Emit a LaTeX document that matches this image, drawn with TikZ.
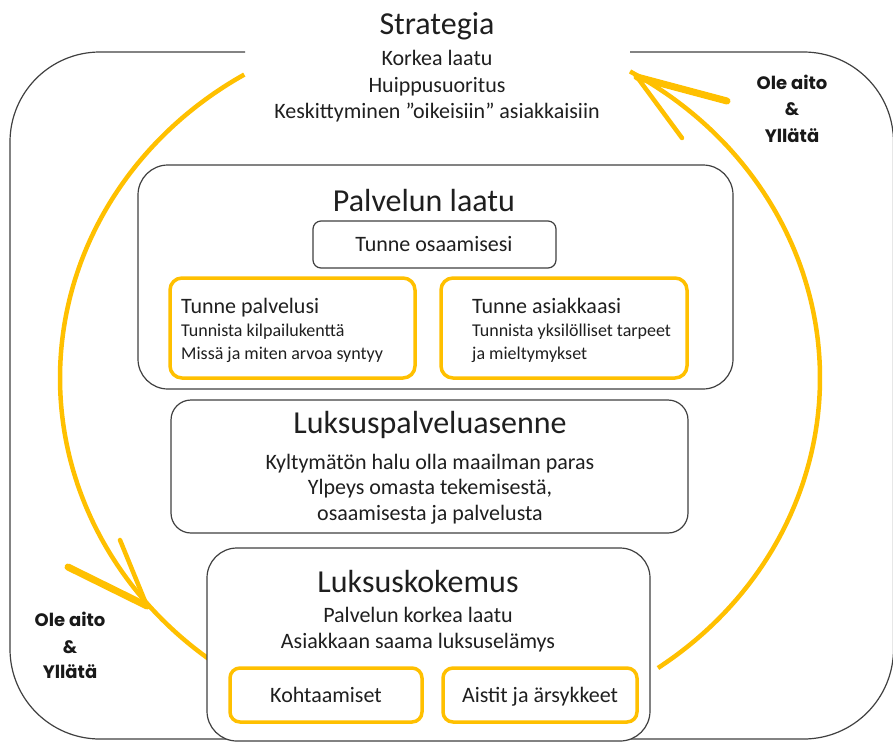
\documentclass[tikz,border=0pt]{standalone}
\usepackage{fontspec}
\setmainfont{Carlito}
\newfontfamily\mottofont{Poppins}
\usetikzlibrary{positioning}
\definecolor{gold}{HTML}{FFC000}
\definecolor{edgegray}{HTML}{404040}
\tikzset{
panel/.style = {rectangle, draw=edgegray, line width=1.2pt, fill=white, rounded corners=#1},
panel/.default = 20, % corner radius of the black boxes
goldbox/.style = {rectangle, draw=gold, line width=3.5pt, fill=white, rounded corners=12},
loopline/.style = {draw=gold, line width=4.5pt},
barb/.style = {draw=gold, line width=7pt, line cap=round},
thinbarb/.style = {draw=gold, line width=4.5pt, line cap=round},
head/.style = {font=\fontsize{32}{38}\selectfont, anchor=base, inner sep=0pt, text=black!88},
body/.style = {font=\fontsize{22}{26}\selectfont, anchor=base, inner sep=0pt, text=black!88},
minor/.style = {font=\fontsize{18}{22}\selectfont, anchor=base west, inner sep=0pt, text=black!88},
motto/.style = {font=\mottofont\bfseries\fontsize{18}{22}\selectfont, anchor=base, inner sep=0pt, text=black!90},
}

\begin{document}
\begin{tikzpicture}[x=1pt, y=-1pt]
\useasboundingbox (0,0) rectangle (893,742);

    % outer frame, open at the top for the strategy
    \draw[edgegray, line width=1.2pt, rounded corners=90] (245,52) -- (10,52) -- (10,739) -- (893.5,739) -- (893.5,52) -- (630,52);

    % the yellow cycle
    \draw[loopline, domain=121:238, samples=80, smooth] plot ({440+380*cos(\x)}, {378-354*sin(\x)});
    \draw[loopline, domain=-55:60, samples=80, smooth] plot ({440+380*cos(\x)}, {378-354*sin(\x)});

    \coordinate (tipR) at (637,77);
    \coordinate (barbR1) at (727,101);
    \coordinate (barbR2) at (682,138);
    \coordinate (tipL) at (147,606);
    \coordinate (barbL1) at (68,567);
    \coordinate (barbL2) at (120,540);
\draw[barb] (tipR) -- (barbR1);
\draw[thinbarb] (tipR) -- (barbR2);
\draw[barb] (tipL) -- (barbL1);
\draw[thinbarb] (tipL) -- (barbL2);

    % boxes
    \node[panel=30, minimum width=595, minimum height=224] (laatu) at (435.5,277) {};
    \node[panel=8, minimum width=243, minimum height=47] (osaam) at (434.5,244.5) {};
    \node[goldbox, minimum width=245, minimum height=100] (palv) at (292.5,328) {};
    \node[goldbox, minimum width=246, minimum height=100] (asiak) at (564,328) {};
    \node[panel=20, minimum width=517, minimum height=133] (asenne) at (429.5,466.5) {};
    \node[panel=30, minimum width=443, minimum height=193] (kokemus) at (428.5,644.5) {};
    \node[goldbox, rounded corners=10, minimum width=192, minimum height=54] (kohtaam) at (326,695) {};
    \node[goldbox, rounded corners=10, minimum width=194, minimum height=54] (aistit) at (540,695) {};

    % texts
\node[head] (strat) at (437,34) {Strategia};
\node[body] (strat1) at (437,65) {Korkea laatu};
\node[body] (strat2) at (437,92) {Huippusuoritus};
\node[body] (strat3) at (437,118) {Keskittyminen ”oikeisiin” asiakkaisiin};

\node[head] (laatuT) at (424,211) {Palvelun laatu};
\node[body] (osaamT) at (434,251) {Tunne osaamisesi};
\node[body, anchor=base west] (palvT) at (181,313) {Tunne palvelusi};
\node[minor] (palv1) at (181,336) {Tunnista kilpailukenttä};
\node[minor] (palv2) at (181,359) {Missä ja miten arvoa syntyy};
\node[body, anchor=base west] (asiakT) at (472,313) {Tunne asiakkaasi};
\node[minor] (asiak1) at (472,336) {Tunnista yksilölliset tarpeet};
\node[minor] (asiak2) at (472,359) {ja mieltymykset};

\node[head] (asenneT) at (430,433) {Luksuspalveluasenne};
\node[body] (asenne1) at (430,469) {Kyltymätön halu olla maailman paras};
\node[body] (asenne2) at (430,494) {Ylpeys omasta tekemisestä,};
\node[body] (asenne3) at (430,520) {osaamisesta ja palvelusta};

\node[head] (kokemusT) at (418,592) {Luksuskokemus};
\node[body] (kokemus1) at (418,622) {Palvelun korkea laatu};
\node[body] (kokemus2) at (418,648) {Asiakkaan saama luksuselämys};
\node[body] (kohtaamT) at (326,702) {Kohtaamiset};
\node[body] (aistitT) at (540,702) {Aistit ja ärsykkeet};

\node[motto] (mottoR1) at (792,89) {Ole aito};
\node[motto] (mottoR2) at (792,115) {\&};
\node[motto] (mottoR3) at (792,142) {Yllätä};
\node[motto] (mottoL1) at (70,626) {Ole aito};
\node[motto] (mottoL2) at (70,653) {\&};
\node[motto] (mottoL3) at (70,678) {Yllätä};

\end{tikzpicture}
\end{document}
